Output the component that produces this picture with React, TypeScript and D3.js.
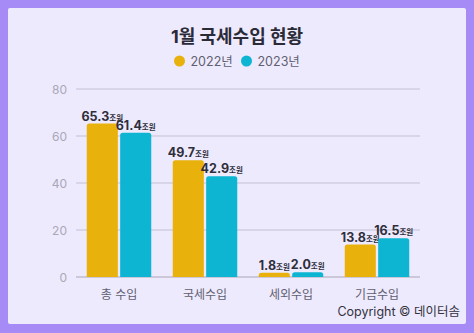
import React from "react";
import * as d3 from "d3";

const categories = ["총 수입", "국세수입", "세외수입", "기금수입"];
const series = ["2022년", "2023년"];
const values2022 = [65.3, 49.7, 1.8, 13.8];
const values2023 = [61.4, 42.9, 2.0, 16.5];
const yTicks = [0, 20, 40, 60, 80];
const colors = ["#E9B10C", "#0DB5D2"];

const W = 474;
const H = 333;
const FONT = "Inter, 'Noto Sans CJK KR', 'Noto Sans', sans-serif";

function topRoundedRect(x: number, y: number, w: number, h: number, r: number) {
  const rr = Math.min(r, h, w / 2);
  const p = d3.path();
  p.moveTo(x, y + h);
  p.lineTo(x, y + rr);
  p.arcTo(x, y, x + rr, y, rr);
  p.lineTo(x + w - rr, y);
  p.arcTo(x + w, y, x + w, y + rr, rr);
  p.lineTo(x + w, y + h);
  p.closePath();
  return p.toString();
}

export default function App() {
  const x0 = d3.scaleBand<string>().domain(categories).range([76, 420]).paddingInner(0.25).paddingOuter(0.125);
  const x1 = d3.scaleBand<string>().domain(series).range([0, x0.bandwidth()]).paddingInner(0.07);
  const y = d3.scaleLinear().domain([0, 80]).range([277, 89]);
  const data = [values2022, values2023];

  return (
    <svg width={W} height={H} style={{ position: "absolute", left: 0, top: 0 }} fontFamily={FONT}>
      <rect x={0} y={0} width={W} height={H} fill="#A68BF7" />
      <rect x={8} y={8} width={458} height={316} rx={2} fill="#EEEAFD" />
      <text x={237} y={43} textAnchor="middle" fontSize={18} fontWeight={700} fill="#2B2B38">
        1월 국세수입 현황
      </text>
      {series.map((s, i) => {
        const cx = i === 0 ? 179.5 : 246.5;
        return (
          <g key={s}>
            <circle cx={cx} cy={61} r={5.5} fill={colors[i]} />
            <text x={cx + 11} y={65.5} fontSize={12.5} fill="#5F5F70">
              {s}
            </text>
          </g>
        );
      })}
      {yTicks.map((t) => (
        <g key={t}>
          <line x1={76} x2={420} y1={y(t)} y2={y(t)} stroke={t === 0 ? "#A9A6B8" : "#C3BFD3"} strokeWidth={1.2} />
          <text x={67} y={y(t) + 4.5} textAnchor="end" fontSize={12} fill="#A9A7B8">
            {t}
          </text>
        </g>
      ))}
      {categories.map((c, ci) => (
        <g key={c}>
          {series.map((s, si) => {
            const v = data[si][ci];
            const bx = (x0(c) as number) + (x1(s) as number);
            const bw = x1.bandwidth();
            const by = y(v);
            return (
              <g key={s}>
                <path d={topRoundedRect(bx, by, bw, y(0) - by, 2.5)} fill={colors[si]} />
                <text x={bx + bw / 2} y={by - 3} textAnchor="middle" fill="#2E2E3A">
                  <tspan fontSize={12.5} fontWeight={700}>{v.toFixed(1)}</tspan>
                  <tspan fontSize={7.5} fontWeight={700}>조원</tspan>
                </text>
              </g>
            );
          })}
          <text x={(x0(c) as number) + x0.bandwidth() / 2} y={299} textAnchor="middle" fontSize={12} fill="#5F5F70">
            {c}
          </text>
        </g>
      ))}
      <text x={460} y={315.5} textAnchor="end" fontSize={12.5} fill="#333340">
        Copyright © 데이터솜
      </text>
    </svg>
  );
}
